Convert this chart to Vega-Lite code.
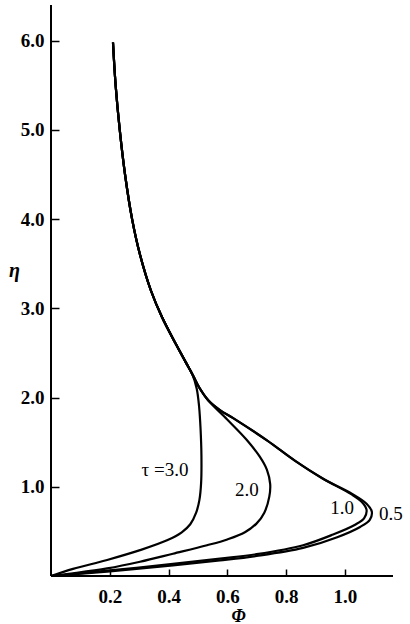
{
  "$schema": "https://vega.github.io/schema/vega-lite/v6.json",
  "width": 342,
  "height": 571,
  "autosize": {"type": "none"},
  "padding": {"left": 51, "top": 5, "right": 17, "bottom": 48},
  "background": "white",
  "config": {
    "view": {"stroke": null},
    "axis": {
      "grid": false,
      "domain": false,
      "tickColor": "black",
      "tickWidth": 1.5,
      "labelFont": "Liberation Serif",
      "labelFontSize": 19,
      "labelFontWeight": "bold",
      "labelColor": "black",
      "titleColor": "black"
    }
  },
  "layer": [
    {
      "data": {
        "values": [
          {"curve": "3.0", "order": 1, "phi": 0.211, "eta": 5.98},
          {"curve": "3.0", "order": 2, "phi": 0.22, "eta": 5.5},
          {"curve": "3.0", "order": 3, "phi": 0.234, "eta": 5.0},
          {"curve": "3.0", "order": 4, "phi": 0.252, "eta": 4.5},
          {"curve": "3.0", "order": 5, "phi": 0.276, "eta": 4.0},
          {"curve": "3.0", "order": 6, "phi": 0.303, "eta": 3.6},
          {"curve": "3.0", "order": 7, "phi": 0.34, "eta": 3.2},
          {"curve": "3.0", "order": 8, "phi": 0.378, "eta": 2.9},
          {"curve": "3.0", "order": 9, "phi": 0.425, "eta": 2.6},
          {"curve": "3.0", "order": 10, "phi": 0.458, "eta": 2.4},
          {"curve": "3.0", "order": 11, "phi": 0.481, "eta": 2.26},
          {"curve": "3.0", "order": 12, "phi": 0.496, "eta": 2.1},
          {"curve": "3.0", "order": 13, "phi": 0.504, "eta": 1.9},
          {"curve": "3.0", "order": 14, "phi": 0.509, "eta": 1.65},
          {"curve": "3.0", "order": 15, "phi": 0.512, "eta": 1.35},
          {"curve": "3.0", "order": 16, "phi": 0.511, "eta": 1.05},
          {"curve": "3.0", "order": 17, "phi": 0.505, "eta": 0.85},
          {"curve": "3.0", "order": 18, "phi": 0.494, "eta": 0.71},
          {"curve": "3.0", "order": 19, "phi": 0.474, "eta": 0.58},
          {"curve": "3.0", "order": 20, "phi": 0.445, "eta": 0.49},
          {"curve": "3.0", "order": 21, "phi": 0.395, "eta": 0.4},
          {"curve": "3.0", "order": 22, "phi": 0.303, "eta": 0.29},
          {"curve": "3.0", "order": 23, "phi": 0.191, "eta": 0.18},
          {"curve": "3.0", "order": 24, "phi": 0.075, "eta": 0.08},
          {"curve": "3.0", "order": 25, "phi": 0.0, "eta": 0.0},

          {"curve": "2.0", "order": 1, "phi": 0.211, "eta": 5.98},
          {"curve": "2.0", "order": 2, "phi": 0.22, "eta": 5.5},
          {"curve": "2.0", "order": 3, "phi": 0.234, "eta": 5.0},
          {"curve": "2.0", "order": 4, "phi": 0.252, "eta": 4.5},
          {"curve": "2.0", "order": 5, "phi": 0.276, "eta": 4.0},
          {"curve": "2.0", "order": 6, "phi": 0.303, "eta": 3.6},
          {"curve": "2.0", "order": 7, "phi": 0.34, "eta": 3.2},
          {"curve": "2.0", "order": 8, "phi": 0.378, "eta": 2.9},
          {"curve": "2.0", "order": 9, "phi": 0.425, "eta": 2.6},
          {"curve": "2.0", "order": 10, "phi": 0.458, "eta": 2.4},
          {"curve": "2.0", "order": 11, "phi": 0.483, "eta": 2.25},
          {"curve": "2.0", "order": 12, "phi": 0.505, "eta": 2.11},
          {"curve": "2.0", "order": 13, "phi": 0.535, "eta": 1.97},
          {"curve": "2.0", "order": 14, "phi": 0.598, "eta": 1.76},
          {"curve": "2.0", "order": 15, "phi": 0.665, "eta": 1.53},
          {"curve": "2.0", "order": 16, "phi": 0.71, "eta": 1.34},
          {"curve": "2.0", "order": 17, "phi": 0.735, "eta": 1.19},
          {"curve": "2.0", "order": 18, "phi": 0.746, "eta": 1.03},
          {"curve": "2.0", "order": 19, "phi": 0.743, "eta": 0.89},
          {"curve": "2.0", "order": 20, "phi": 0.726, "eta": 0.71},
          {"curve": "2.0", "order": 21, "phi": 0.7, "eta": 0.59},
          {"curve": "2.0", "order": 22, "phi": 0.66, "eta": 0.49},
          {"curve": "2.0", "order": 23, "phi": 0.6, "eta": 0.41},
          {"curve": "2.0", "order": 24, "phi": 0.531, "eta": 0.345},
          {"curve": "2.0", "order": 25, "phi": 0.415, "eta": 0.25},
          {"curve": "2.0", "order": 26, "phi": 0.303, "eta": 0.16},
          {"curve": "2.0", "order": 27, "phi": 0.191, "eta": 0.085},
          {"curve": "2.0", "order": 28, "phi": 0.075, "eta": 0.03},
          {"curve": "2.0", "order": 29, "phi": 0.0, "eta": 0.0},

          {"curve": "1.0", "order": 1, "phi": 0.211, "eta": 5.98},
          {"curve": "1.0", "order": 2, "phi": 0.22, "eta": 5.5},
          {"curve": "1.0", "order": 3, "phi": 0.234, "eta": 5.0},
          {"curve": "1.0", "order": 4, "phi": 0.252, "eta": 4.5},
          {"curve": "1.0", "order": 5, "phi": 0.276, "eta": 4.0},
          {"curve": "1.0", "order": 6, "phi": 0.303, "eta": 3.6},
          {"curve": "1.0", "order": 7, "phi": 0.34, "eta": 3.2},
          {"curve": "1.0", "order": 8, "phi": 0.378, "eta": 2.9},
          {"curve": "1.0", "order": 9, "phi": 0.425, "eta": 2.6},
          {"curve": "1.0", "order": 10, "phi": 0.458, "eta": 2.4},
          {"curve": "1.0", "order": 11, "phi": 0.483, "eta": 2.25},
          {"curve": "1.0", "order": 12, "phi": 0.505, "eta": 2.11},
          {"curve": "1.0", "order": 13, "phi": 0.535, "eta": 1.97},
          {"curve": "1.0", "order": 14, "phi": 0.575, "eta": 1.86},
          {"curve": "1.0", "order": 15, "phi": 0.62, "eta": 1.77},
          {"curve": "1.0", "order": 16, "phi": 0.735, "eta": 1.52},
          {"curve": "1.0", "order": 17, "phi": 0.831, "eta": 1.29},
          {"curve": "1.0", "order": 18, "phi": 0.926, "eta": 1.09},
          {"curve": "1.0", "order": 19, "phi": 1.02, "eta": 0.92},
          {"curve": "1.0", "order": 20, "phi": 1.058, "eta": 0.83},
          {"curve": "1.0", "order": 21, "phi": 1.074, "eta": 0.74},
          {"curve": "1.0", "order": 22, "phi": 1.066, "eta": 0.65},
          {"curve": "1.0", "order": 23, "phi": 1.035, "eta": 0.575},
          {"curve": "1.0", "order": 24, "phi": 0.96, "eta": 0.465},
          {"curve": "1.0", "order": 25, "phi": 0.858, "eta": 0.345},
          {"curve": "1.0", "order": 26, "phi": 0.7, "eta": 0.245},
          {"curve": "1.0", "order": 27, "phi": 0.575, "eta": 0.195},
          {"curve": "1.0", "order": 28, "phi": 0.415, "eta": 0.135},
          {"curve": "1.0", "order": 29, "phi": 0.191, "eta": 0.06},
          {"curve": "1.0", "order": 30, "phi": 0.0, "eta": 0.0},

          {"curve": "0.5", "order": 1, "phi": 0.211, "eta": 5.98},
          {"curve": "0.5", "order": 2, "phi": 0.22, "eta": 5.5},
          {"curve": "0.5", "order": 3, "phi": 0.234, "eta": 5.0},
          {"curve": "0.5", "order": 4, "phi": 0.252, "eta": 4.5},
          {"curve": "0.5", "order": 5, "phi": 0.276, "eta": 4.0},
          {"curve": "0.5", "order": 6, "phi": 0.303, "eta": 3.6},
          {"curve": "0.5", "order": 7, "phi": 0.34, "eta": 3.2},
          {"curve": "0.5", "order": 8, "phi": 0.378, "eta": 2.9},
          {"curve": "0.5", "order": 9, "phi": 0.425, "eta": 2.6},
          {"curve": "0.5", "order": 10, "phi": 0.458, "eta": 2.4},
          {"curve": "0.5", "order": 11, "phi": 0.483, "eta": 2.25},
          {"curve": "0.5", "order": 12, "phi": 0.505, "eta": 2.11},
          {"curve": "0.5", "order": 13, "phi": 0.535, "eta": 1.97},
          {"curve": "0.5", "order": 14, "phi": 0.575, "eta": 1.86},
          {"curve": "0.5", "order": 15, "phi": 0.62, "eta": 1.77},
          {"curve": "0.5", "order": 16, "phi": 0.735, "eta": 1.52},
          {"curve": "0.5", "order": 17, "phi": 0.831, "eta": 1.29},
          {"curve": "0.5", "order": 18, "phi": 0.926, "eta": 1.09},
          {"curve": "0.5", "order": 19, "phi": 1.025, "eta": 0.92},
          {"curve": "0.5", "order": 20, "phi": 1.074, "eta": 0.81},
          {"curve": "0.5", "order": 21, "phi": 1.092, "eta": 0.72},
          {"curve": "0.5", "order": 22, "phi": 1.085, "eta": 0.63},
          {"curve": "0.5", "order": 23, "phi": 1.052, "eta": 0.55},
          {"curve": "0.5", "order": 24, "phi": 0.974, "eta": 0.435},
          {"curve": "0.5", "order": 25, "phi": 0.858, "eta": 0.315},
          {"curve": "0.5", "order": 26, "phi": 0.7, "eta": 0.225},
          {"curve": "0.5", "order": 27, "phi": 0.575, "eta": 0.175},
          {"curve": "0.5", "order": 28, "phi": 0.415, "eta": 0.12},
          {"curve": "0.5", "order": 29, "phi": 0.191, "eta": 0.05},
          {"curve": "0.5", "order": 30, "phi": 0.0, "eta": 0.0}
        ]
      },
      "mark": {"type": "line", "color": "black", "strokeWidth": 2.2, "interpolate": "catmull-rom", "clip": false},
      "encoding": {
        "x": {
          "field": "phi", "type": "quantitative",
          "scale": {"domain": [0, 1.164], "nice": false, "zero": false},
          "axis": {
            "values": [0.2, 0.4, 0.6, 0.8, 1.0],
            "format": ".1f",
            "offset": -7,
            "tickSize": 7,
            "labelPadding": 11,
            "title": "Φ",
            "titleFont": "Liberation Serif",
            "titleFontStyle": "italic",
            "titleFontWeight": "bold",
            "titleFontSize": 18,
            "titleX": 187,
            "titleY": 47,
            "titleBaseline": "middle",
            "titleAlign": "center"
          }
        },
        "y": {
          "field": "eta", "type": "quantitative",
          "scale": {"domain": [0, 6.4], "nice": false, "zero": false},
          "axis": {
            "values": [1, 2, 3, 4, 5, 6],
            "format": ".1f",
            "offset": -8,
            "tickSize": 8,
            "labelPadding": 7,
            "title": "η",
            "titleAngle": 0,
            "titleFont": "Liberation Serif",
            "titleFontStyle": "italic",
            "titleFontWeight": "bold",
            "titleFontSize": 20,
            "titleX": -45,
            "titleY": 265,
            "titleBaseline": "middle",
            "titleAlign": "center"
          }
        },
        "detail": {"field": "curve", "type": "nominal"},
        "order": {"field": "order", "type": "quantitative"}
      }
    },
    {
      "data": {"values": [{}]},
      "mark": {"type": "rule", "color": "black", "strokeWidth": 2},
      "encoding": {
        "x": {"datum": 0, "type": "quantitative"},
        "y": {"datum": 0, "type": "quantitative"},
        "y2": {"datum": 6.4}
      }
    },
    {
      "data": {"values": [{}]},
      "mark": {"type": "rule", "color": "black", "strokeWidth": 2},
      "encoding": {
        "x": {"datum": 0, "type": "quantitative"},
        "x2": {"datum": 1.164},
        "y": {"datum": 0, "type": "quantitative"}
      }
    },
    {
      "data": {
        "values": [
          {"label": "τ =3.0", "phi": 0.388, "eta": 1.19},
          {"label": "2.0", "phi": 0.667, "eta": 0.96},
          {"label": "1.0", "phi": 0.991, "eta": 0.76},
          {"label": "0.5", "phi": 1.157, "eta": 0.69}
        ]
      },
      "mark": {"type": "text", "font": "Liberation Serif", "fontSize": 19, "color": "black", "align": "center", "baseline": "middle"},
      "encoding": {
        "x": {"field": "phi", "type": "quantitative"},
        "y": {"field": "eta", "type": "quantitative"},
        "text": {"field": "label", "type": "nominal"}
      }
    }
  ]
}
